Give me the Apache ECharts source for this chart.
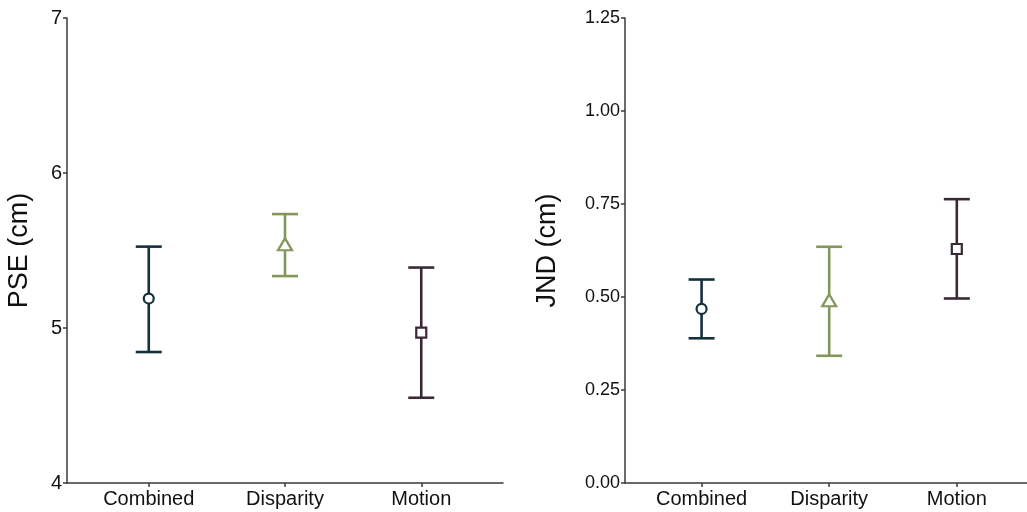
<!DOCTYPE html>
<html>
<head>
<meta charset="utf-8">
<script src="https://cdn.jsdelivr.net/npm/echarts@6/dist/echarts.min.js"></script>
<style>
  html, body { margin: 0; padding: 0; background: #fff; }
  #chart { width: 1027px; height: 512px; }
</style>
</head>
<body>
<div id="chart"></div>
<script>
// Conditions shown on both panels
const categories = ['Combined', 'Disparity', 'Motion'];
const colors = ['#14303c', '#82975a', '#3a2834'];
const symbols = ['circle', 'triangle', 'rect'];
const symbolSizes = [10, [14, 12], 10];

// Point of subjective equality (cm): mean and interval bounds
const pseMean = [5.19, 5.54, 4.97];
const pseLow  = [4.845, 5.335, 4.55];
const pseHigh = [5.525, 5.735, 5.39];

// Just-noticeable difference (cm): mean and interval bounds
const jndMean = [0.468, 0.491, 0.629];
const jndLow  = [0.389, 0.342, 0.496];
const jndHigh = [0.547, 0.635, 0.763];

// Tick labels
const pseTicks = [4, 5, 6, 7];
const jndTicks = [0, 0.25, 0.5, 0.75, 1.0, 1.25];

const font = 'Liberation Sans, Arial, sans-serif';
const axisColor = '#3a3a3a';

function errorBarItem(params, api) {
  const x = api.value(0);
  const pLo = api.coord([x, api.value(1)]);
  const pHi = api.coord([x, api.value(2)]);
  const half = 13;
  const style = { stroke: api.visual('color'), lineWidth: 2.6, fill: null };
  return {
    type: 'group',
    children: [
      { type: 'line', shape: { x1: pHi[0], y1: pHi[1], x2: pLo[0], y2: pLo[1] }, style },
      { type: 'line', shape: { x1: pHi[0] - half, y1: pHi[1], x2: pHi[0] + half, y2: pHi[1] }, style },
      { type: 'line', shape: { x1: pLo[0] - half, y1: pLo[1], x2: pLo[0] + half, y2: pLo[1] }, style }
    ]
  };
}

function barData(low, high) {
  return categories.map((c, i) => ({ value: [i + 1, low[i], high[i]], itemStyle: { color: colors[i] } }));
}
function pointData(mean) {
  return categories.map((c, i) => ({
    value: [i + 1, mean[i]],
    symbol: symbols[i],
    symbolSize: symbolSizes[i],
    itemStyle: { color: '#ffffff', borderColor: colors[i], borderWidth: 2.2, opacity: 1 }
  }));
}

function xAxis(gridIndex, max) {
  return {
    type: 'value', gridIndex, min: 0.4, max,
    splitLine: { show: false },
    axisLine: { show: true, lineStyle: { color: axisColor, width: 1.5 } },
    axisTick: { show: true, customValues: [1, 2, 3], length: 4, lineStyle: { color: axisColor, width: 1.5 } },
    axisLabel: {
      customValues: [1, 2, 3],
      formatter: v => categories[Math.round(v) - 1] || '',
      color: '#111', fontSize: 20, fontFamily: font, margin: 6
    }
  };
}

function yAxis(gridIndex, min, max, interval, ticks, name, decimals, nameGap, labelSize) {
  return {
    type: 'value', gridIndex, min, max, interval,
    name, nameLocation: 'middle', nameGap,
    nameTextStyle: { fontSize: 27, fontFamily: font, color: '#111' },
    splitLine: { show: false },
    axisLine: { show: true, lineStyle: { color: axisColor, width: 1.5 } },
    axisTick: { show: true, length: 4, lineStyle: { color: axisColor, width: 1.5 } },
    axisLabel: {
      color: '#111', fontSize: labelSize, fontFamily: font, margin: 5,
      formatter: v => ticks.some(t => Math.abs(t - v) < 1e-9) ? v.toFixed(decimals) : ''
    }
  };
}

const chart = echarts.init(document.getElementById('chart'), null, { renderer: 'canvas' });
chart.setOption({
  backgroundColor: '#ffffff',
  animation: false,
  grid: [
    { left: 67, top: 18, width: 436, bottom: 29 },
    { left: 625, top: 18, right: 0, bottom: 29 }
  ],
  xAxis: [xAxis(0, 3.6), xAxis(1, 3.55)],
  yAxis: [
    yAxis(0, 4, 7, 1, pseTicks, 'PSE (cm)', 0, 34, 20),
    yAxis(1, 0, 1.25, 0.25, jndTicks, 'JND (cm)', 2, 64, 18)
  ],
  series: [
    { type: 'custom', xAxisIndex: 0, yAxisIndex: 0, renderItem: errorBarItem, data: barData(pseLow, pseHigh), z: 2 },
    { type: 'scatter', xAxisIndex: 0, yAxisIndex: 0, data: pointData(pseMean), z: 3 },
    { type: 'custom', xAxisIndex: 1, yAxisIndex: 1, renderItem: errorBarItem, data: barData(jndLow, jndHigh), z: 2 },
    { type: 'scatter', xAxisIndex: 1, yAxisIndex: 1, data: pointData(jndMean), z: 3 }
  ]
});
</script>
</body>
</html>
